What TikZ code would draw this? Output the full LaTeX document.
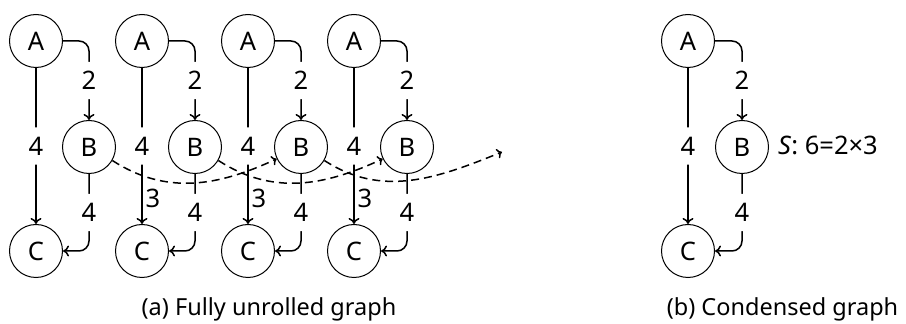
\documentclass[tikz,border=0pt]{standalone}
\usepackage{fontspec}
\setmainfont{Noto Sans}
\usetikzlibrary{arrows.meta}
\begin{document}
\begin{tikzpicture}[x=1pt,y=1pt,
  vtx/.style={circle,draw,line width=1pt,minimum size=53pt,inner sep=0pt,font=\fontsize{25.5}{28}\selectfont},
  edge/.style={line width=1.5pt,-{To[length=6pt,width=11pt]},rounded corners=10pt},
  dep/.style={line width=1.5pt,dash pattern=on 8pt off 5pt,-{To[length=5pt,width=10pt]}},
  lbl/.style={fill=white,inner sep=9.5pt,font=\fontsize{25.5}{28}\selectfont},
  dlbl/.style={inner sep=0pt,font=\fontsize{25.5}{28}\selectfont},
  captxt/.style={inner sep=0pt,anchor=base,font=\fontsize{23.5}{26}\selectfont}]
\useasboundingbox (0,0) rectangle (906,324);
% unrolled graph
\foreach \i in {0,1,2,3}{
  \node[vtx] (A\i) at (36+106*\i,283) {A};
  \node[vtx] (B\i) at (89+106*\i,177) {B};
  \node[vtx] (C\i) at (36+106*\i,73) {C};
}
\foreach \i in {0,1,2,3}{
  \draw[edge] (A\i) -- node[lbl] (lac\i) {4} (C\i);
  \draw[edge] (A\i.east) -| node[lbl,pos=0.75] (lab\i) {2} (B\i.north);
  \draw[edge] (B\i.south) |- node[lbl,pos=0.25] (lbc\i) {4} (C\i.east);
}
\coordinate (end) at (502,172);
\draw[dep] (B0.-30) to[out=-33,in=205] (B2.206);
\draw[dep] (B1.-30) to[out=-33,in=205] (B3.206);
\draw[dep] (B2.-30) to[out=-33,in=202] (end);
\foreach \i in {0,1,2}{
  \node[dlbl] (t\i) at (153+106*\i,126) {3};
}
\node[captxt] (capa) at (269,8) {(a) Fully unrolled graph};
% condensed graph
\node[vtx] (AA) at (688,283) {A};
\node[vtx] (BB) at (742,177) {B};
\node[vtx] (CC) at (688,73) {C};
\draw[edge] (AA) -- node[lbl] (laa) {4} (CC);
\draw[edge] (AA.east) -| node[lbl,pos=0.75] (lbb) {2} (BB.north);
\draw[edge] (BB.south) |- node[lbl,pos=0.25] (lcc) {4} (CC.east);
\node[dlbl,anchor=base west] (S) at (778,169) {\textit{S}: 6=2×3};
\node[captxt] (capb) at (782.5,8) {(b) Condensed graph};
\end{tikzpicture}
\end{document}
